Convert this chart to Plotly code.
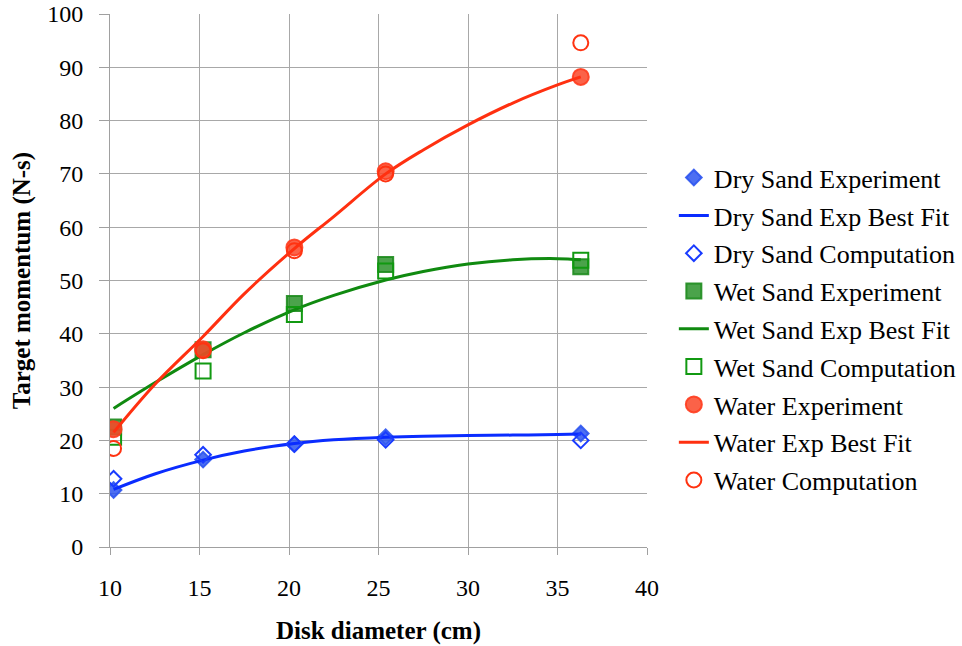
import plotly.graph_objects as go

# Disk diameters (cm) at which the targets were tested
diameter = [10.2, 15.2, 20.3, 25.4, 36.3]

# Target momentum (N-s)
dry_exp = [10.7, 16.4, 19.3, 20.6, 21.3]
dry_comp = [12.8, 17.3, 19.3, 20.1, 20.0]
wet_exp = [22.5, 37.0, 45.7, 53.0, 52.6]
wet_comp = [20.6, 33.0, 43.6, 51.8, 53.8]
water_exp = [22.1, 37.1, 56.2, 70.5, 88.2]
water_comp = [18.5, 36.8, 55.6, 70.0, 94.6]

# Best-fit curves sampled along the diameter range
fit_x = [10.2, 12.5, 15.2, 17.5, 20.3, 22.5, 25.4, 27.5, 30.0, 32.5, 35.0, 36.3]
dry_fit = [10.8, 13.7, 16.3, 18.0, 19.4, 20.1, 20.6, 20.8, 20.9, 21.0, 21.1, 21.2]
wet_fit = [26.0, 30.8, 36.1, 40.2, 44.5, 47.2, 50.1, 51.7, 53.1, 53.9, 54.1, 53.9]
water_fit = [21.5, 30.5, 39.5, 47.5, 56.0, 62.0, 70.0, 74.5, 79.2, 83.3, 86.7, 88.2]

BLUE = "#0a2cff"
GREEN = "#108a10"
RED = "#ff3010"
SERIF = "Liberation Serif"

fig = go.Figure()

def add_points(y, name, symbol, size, fill, line_color):
    fig.add_trace(go.Scatter(
        x=diameter, y=y, name=name, mode="markers",
        marker=dict(symbol=symbol, size=size, color=fill,
                    line=dict(color=line_color, width=2)),
        legendgroup=name,
    ))

def add_fit(y, name, color):
    fig.add_trace(go.Scatter(
        x=fit_x, y=y, name=name, mode="lines", line_shape="spline",
        line=dict(color=color, width=3), legendgroup=name,
    ))

add_points(dry_exp, "Dry Sand Experiment", "diamond", 12, "rgba(45,85,240,0.85)", "rgba(45,85,240,0.9)")
add_fit(dry_fit, "Dry Sand Exp Best Fit", BLUE)
add_points(dry_comp, "Dry Sand Computation", "diamond-open", 12, "#1a3cff", "#1a3cff")
add_points(wet_exp, "Wet Sand Experiment", "square", 15, "rgba(30,140,30,0.8)", "rgba(30,140,30,0.9)")
add_fit(wet_fit, "Wet Sand Exp Best Fit", GREEN)
add_points(wet_comp, "Wet Sand Computation", "square-open", 15, "#119911", "#119911")
add_points(water_exp, "Water Experiment", "circle", 16, "rgba(250,70,40,0.85)", "rgba(255,60,30,0.9)")
add_fit(water_fit, "Water Exp Best Fit", RED)
add_points(water_comp, "Water Computation", "circle-open", 15, "#ff3311", "#ff3311")

axis_common = dict(
    showgrid=True, gridcolor="#a8a8a8", gridwidth=1,
    showline=True, linecolor="#a0a0a0", linewidth=1,
    ticks="outside", tickcolor="#a0a0a0",
    tickfont=dict(family=SERIF, size=24, color="black"),
    zeroline=False, automargin=False,
)

fig.update_xaxes(
    range=[10, 40], dtick=5, tick0=10, ticklen=7, ticklabelstandoff=12,
    title=dict(text="<b>Disk diameter (cm)</b>", font=dict(family=SERIF, size=25, color="black"), standoff=21),
    **axis_common,
)
fig.update_yaxes(
    range=[0, 100], dtick=10, tick0=0, ticklen=10, ticklabelstandoff=11,
    title=dict(text="<b>Target momentum (N-s)</b>", font=dict(family=SERIF, size=25, color="black"), standoff=9),
    **axis_common,
)

fig.update_layout(
    width=962, height=646,
    margin=dict(l=110, r=315, t=14, b=99, autoexpand=False),
    paper_bgcolor="white", plot_bgcolor="white",
    font=dict(family=SERIF, color="black"),
    legend=dict(
        x=1.05, y=0.737, xanchor="left", yanchor="top",
        font=dict(family=SERIF, size=26, color="black"),
        tracegroupgap=1, itemwidth=30,
        bgcolor="rgba(0,0,0,0)",
    ),
    showlegend=True,
)

fig.write_html("out.html")
